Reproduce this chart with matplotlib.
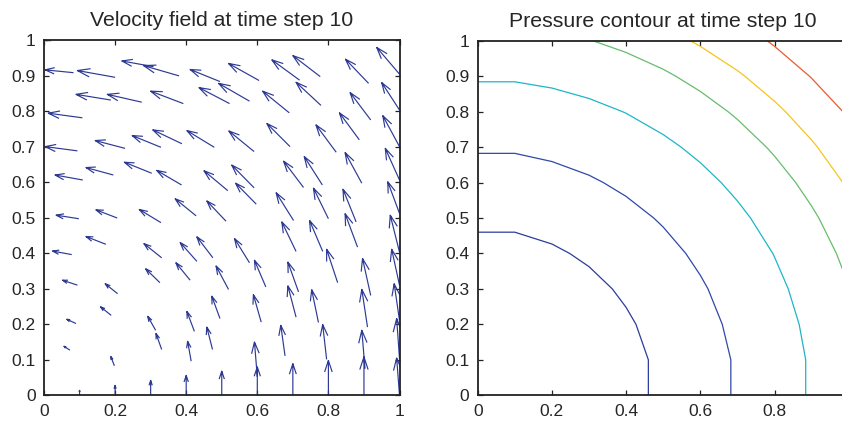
import numpy as np
import matplotlib
matplotlib.use("Agg")
import matplotlib.pyplot as plt

plt.rcParams['font.family'] = ['Liberation Sans', 'DejaVu Sans']

# ---------------- velocity field (particle positions and velocities) ----------------
tail_x = [0.020, 0.083, 0.200, 0.308, 0.380, 0.495, 0.605, 0.719, 0.777, 0.913, 1.000,
          0.188, 0.275, 0.392, 0.522, 0.578, 0.690, 0.779, 0.919, 1.000,
          0.108, 0.228, 0.329, 0.388, 0.479, 0.591, 0.692, 0.822, 0.887, 1.000,
          0.094, 0.109, 0.195, 0.303, 0.387, 0.517, 0.591, 0.730, 0.783, 0.894, 1.000,
          0.597, 0.428, 0.512, 0.702, 0.800, 0.878, 1.000, 0.098, 0.206, 0.329,
          0.174, 0.078, 0.331, 0.430, 0.475, 0.578, 0.709, 0.784, 0.882, 1.000,
          0.094, 0.207, 0.326, 0.411, 0.519, 0.624, 0.716, 0.826, 0.919, 1.000,
          0.189, 0.495, 0.611, 0.709, 0.772, 0.910, 1.000,
          0.090, 0.314, 0.423, 0.474, 0.678, 0.795, 0.903, 1.000,
          0.073, 0.331, 0.414, 0.198, 0.600,
          0.1, 0.2, 0.3, 0.4, 0.5, 0.6, 0.7, 0.8, 0.9, 1.0]
tail_y = [0.998, 0.908, 0.895, 0.925, 0.899, 0.883, 0.886, 0.887, 0.897, 0.878, 0.904,
          0.831, 0.825, 0.821, 0.821, 0.828, 0.795, 0.816, 0.775, 0.803,
          0.781, 0.695, 0.698, 0.708, 0.698, 0.686, 0.700, 0.684, 0.719, 0.700,
          0.688, 0.606, 0.620, 0.625, 0.592, 0.576, 0.584, 0.585, 0.592, 0.597, 0.606,
          0.538, 0.505, 0.490, 0.492, 0.497, 0.488, 0.512, 0.497, 0.499, 0.486,
          0.425, 0.396, 0.387, 0.377, 0.387, 0.373, 0.405, 0.405, 0.417, 0.403,
          0.310, 0.286, 0.317, 0.324, 0.298, 0.305, 0.291, 0.317, 0.281, 0.310,
          0.225, 0.216, 0.206, 0.220, 0.205, 0.192, 0.211,
          0.202, 0.183, 0.180, 0.129, 0.111, 0.101, 0.075, 0.103,
          0.127, 0.129, 0.096, 0.083, 0.052,
          0.0, 0.0, 0.0, 0.0, 0.0, 0.0, 0.0, 0.0, 0.0, 0.0]
vel_u = [-0.015, -0.080, -0.106, -0.089, -0.100, -0.084, -0.086, -0.078, -0.077, -0.065, -0.064,
         -0.098, -0.097, -0.092, -0.086, -0.087, -0.075, -0.070, -0.058, -0.050,
         -0.096, -0.084, -0.081, -0.082, -0.077, -0.071, -0.065, -0.057, -0.056, -0.047,
         -0.091, -0.078, -0.077, -0.077, -0.070, -0.067, -0.063, -0.056, -0.051, -0.047, -0.040,
         -0.058, -0.059, -0.054, -0.049, -0.042, -0.037, -0.033, -0.064, -0.060, -0.061,
         -0.056, -0.054, -0.050, -0.047, -0.045, -0.042, -0.040, -0.037, -0.035, -0.026,
         -0.042, -0.035, -0.040, -0.040, -0.035, -0.032, -0.030, -0.031, -0.023, -0.022,
         -0.030, -0.023, -0.022, -0.023, -0.019, -0.016, -0.015,
         -0.026, -0.022, -0.021, -0.016, -0.012, -0.011, -0.009, -0.008,
         -0.017, -0.016, -0.010, -0.010, -0.008,
         0.0, 0.0, 0.0, 0.0, 0.0, 0.0, 0.0, 0.0, 0.0, -0.008]
vel_v = [0.001, 0.008, 0.019, 0.016, 0.029, 0.034, 0.048, 0.057, 0.059, 0.068, 0.075,
         0.016, 0.022, 0.035, 0.045, 0.050, 0.061, 0.065, 0.077, 0.077,
         0.013, 0.022, 0.033, 0.039, 0.047, 0.058, 0.065, 0.077, 0.076, 0.087,
         0.012, 0.014, 0.021, 0.031, 0.041, 0.056, 0.064, 0.074, 0.080, 0.086, 0.089,
         0.059, 0.048, 0.057, 0.078, 0.086, 0.092, 0.089, 0.010, 0.023, 0.037,
         0.022, 0.010, 0.040, 0.053, 0.059, 0.068, 0.083, 0.087, 0.094, 0.104,
         0.014, 0.028, 0.039, 0.049, 0.066, 0.075, 0.084, 0.094, 0.104, 0.101,
         0.024, 0.063, 0.077, 0.088, 0.092, 0.106, 0.103,
         0.012, 0.039, 0.056, 0.063, 0.086, 0.098, 0.108, 0.113,
         0.011, 0.045, 0.056, 0.026, 0.098,
         0.014, 0.028, 0.042, 0.056, 0.068, 0.080, 0.089, 0.098, 0.108, 0.105]

# ---------------- pressure field ----------------
grid_x = [0.0, 0.1, 0.2, 0.3, 0.4, 0.5, 0.6, 0.7, 0.8, 0.9, 1.0]
grid_y = [0.0, 0.1, 0.2, 0.3, 0.4, 0.5, 0.6, 0.7, 0.8, 0.9, 1.0]
pressure = [
    [0.02, 0.02, 0.05, 0.10, 0.17, 0.26, 0.37, 0.50, 0.65, 0.82, 1.01],
    [0.02, 0.02, 0.05, 0.10, 0.17, 0.26, 0.37, 0.50, 0.65, 0.82, 1.01],
    [0.05, 0.05, 0.08, 0.13, 0.20, 0.29, 0.40, 0.53, 0.68, 0.85, 1.04],
    [0.10, 0.10, 0.13, 0.18, 0.25, 0.34, 0.45, 0.58, 0.73, 0.90, 1.09],
    [0.17, 0.17, 0.20, 0.25, 0.32, 0.41, 0.52, 0.65, 0.80, 0.97, 1.16],
    [0.26, 0.26, 0.29, 0.34, 0.41, 0.50, 0.61, 0.74, 0.89, 1.06, 1.25],
    [0.37, 0.37, 0.40, 0.45, 0.52, 0.61, 0.72, 0.85, 1.00, 1.17, 1.36],
    [0.50, 0.50, 0.53, 0.58, 0.65, 0.74, 0.85, 0.98, 1.13, 1.30, 1.49],
    [0.65, 0.65, 0.68, 0.73, 0.80, 0.89, 1.00, 1.13, 1.28, 1.45, 1.64],
    [0.82, 0.82, 0.85, 0.90, 0.97, 1.06, 1.17, 1.30, 1.45, 1.62, 1.81],
    [1.01, 1.01, 1.04, 1.09, 1.16, 1.25, 1.36, 1.49, 1.64, 1.81, 2.00],
]
levels = [0.224, 0.477, 0.793, 1.097, 1.33, 1.61]
level_colors = ['#2b3c9c', '#3048a8', '#1db6c6', '#66bd6c', '#f6c51c', '#ec5a2e']

x_ticks_left = [0, 0.2, 0.4, 0.6, 0.8, 1.0]
x_labels_left = ['0', '0.2', '0.4', '0.6', '0.8', '1']
x_ticks_right = [0, 0.2, 0.4, 0.6, 0.8]
x_labels_right = ['0', '0.2', '0.4', '0.6', '0.8']
y_ticks = [0, 0.1, 0.2, 0.3, 0.4, 0.5, 0.6, 0.7, 0.8, 0.9, 1.0]
y_labels = ['0', '0.1', '0.2', '0.3', '0.4', '0.5', '0.6', '0.7', '0.8', '0.9', '1']

arrow_color = '#2d3a94'
axis_color = '#222222'
text_color = '#262626'

fig = plt.figure(figsize=(8.42, 4.23), dpi=100)
ax1 = fig.add_axes([44 / 842, 1 - 395.3 / 423, 355.5 / 842, 355.3 / 423])
ax2 = fig.add_axes([477.7 / 842, 1 - 395.3 / 423, 371 / 842, 354.6 / 423])

# MATLAB-style quiver arrows (shaft + open head)
alpha, beta = 0.33, 0.33
xs, ys = [], []
for x, y, u, v in zip(tail_x, tail_y, vel_u, vel_v):
    hx, hy = x + u, y + v
    xs += [x, hx, np.nan]
    ys += [y, hy, np.nan]
    xs += [hx - alpha * (u + beta * v), hx, hx - alpha * (u - beta * v), np.nan]
    ys += [hy - alpha * (v - beta * u), hy, hy - alpha * (v + beta * u), np.nan]
ax1.plot(xs, ys, color=arrow_color, lw=0.85, solid_capstyle='butt')

ax1.set_xlim(0, 1)
ax1.set_ylim(0, 1)
ax1.set_xticks(x_ticks_left)
ax1.set_xticklabels(x_labels_left)
ax1.set_yticks(y_ticks)
ax1.set_yticklabels(y_labels)
ax1.set_title('Velocity field at time step 10', fontsize=15.3, color=text_color, pad=10)

# Pressure contour
X, Y = np.meshgrid(grid_x, grid_y)
ax2.contour(X, Y, np.array(pressure), levels=levels, colors=level_colors, linewidths=0.9)
ax2.set_xlim(0, 1)
ax2.set_ylim(0, 1)
ax2.set_xticks(x_ticks_right)
ax2.set_xticklabels(x_labels_right)
ax2.set_yticks(y_ticks)
ax2.set_yticklabels(y_labels)
ax2.set_title('Pressure contour at time step 10', fontsize=15.3, color=text_color, pad=10)

for ax in (ax1, ax2):
    for sp in ax.spines.values():
        sp.set_color(axis_color)
        sp.set_linewidth(1.3)
    ax.tick_params(direction='in', length=3.5, width=0.9, color=axis_color,
                   top=True, right=True, labelsize=12.5, labelcolor=text_color, pad=6)

fig.savefig('out.png', dpi=100)
